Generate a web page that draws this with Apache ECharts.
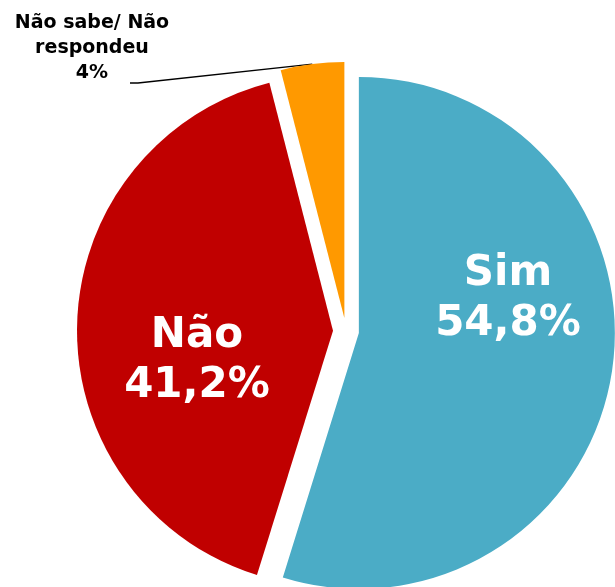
<!DOCTYPE html>
<html>
<head>
<meta charset="utf-8">
<script src="https://cdn.jsdelivr.net/npm/echarts@6/dist/echarts.min.js"></script>
<style>html,body{margin:0;padding:0;background:#fff;}#c{width:615px;height:587px;}</style>
</head>
<body>
<div id="c"></div>
<script>
var categories = ['Sim', 'Não', 'Não sabe/ Não\nrespondeu'];
var values = [54.8, 41.2, 4];
var valueLabels = ['54,8%', '41,2%', '4%'];
var colors = ['#4BACC6', '#C00000', '#FF9900'];

var chart = echarts.init(document.getElementById('c'), null, {renderer: 'canvas'});
var font = '"DejaVu Sans", Verdana, sans-serif';
var total = values.reduce(function (a, b) { return a + b; }, 0);
var C = [346, 331], R = 256, OFF = 13;
var labelPos = [[508, 299], [197, 361], [92, 48]];

var series = [];
var acc = 0;
categories.forEach(function (c, k) {
  var mid = (acc + values[k] / 2) / total * 2 * Math.PI;
  acc += values[k];
  var cx = C[0] + OFF * Math.sin(mid), cy = C[1] - OFF * Math.cos(mid);
  var inside = k < 2;
  series.push({
    type: 'pie',
    center: [cx, cy],
    radius: [0, R],
    startAngle: 90,
    clockwise: true,
    avoidLabelOverlap: false,
    emphasis: {disabled: true},
    silent: true,
    z: 2,
    data: categories.map(function (n, i) {
      var show = i === k;
      return {
        name: n,
        value: values[i],
        itemStyle: {color: show ? colors[i] : 'rgba(0,0,0,0)'},
        label: show ? (inside ? {
          show: true, position: 'inside',
          formatter: n + '\n' + valueLabels[i],
          color: '#fff', fontSize: 42, fontWeight: 'bold', fontFamily: font, lineHeight: 50, align: 'center'
        } : {
          show: true, position: 'outside',
          formatter: n + '\n' + valueLabels[i],
          color: '#000', fontSize: 19, fontWeight: 'bold', fontFamily: font, lineHeight: 25, align: 'center'
        }) : {show: false},
        labelLine: {show: show && !inside, lineStyle: {color: '#000', width: 1.5}}
      };
    }),
    labelLayout: function (p) {
      var pos = labelPos[k];
      var res = {x: pos[0], y: pos[1], align: 'center', verticalAlign: 'middle'};
      if (k === 2 && p.labelLinePoints) {
        var s = p.labelLinePoints[0];
        res.labelLinePoints = [[s[0], s[1]], [138, 83], [130, 83]];
      }
      return res;
    }
  });
});
chart.setOption({animation: false, series: series});
</script>
</body>
</html>
